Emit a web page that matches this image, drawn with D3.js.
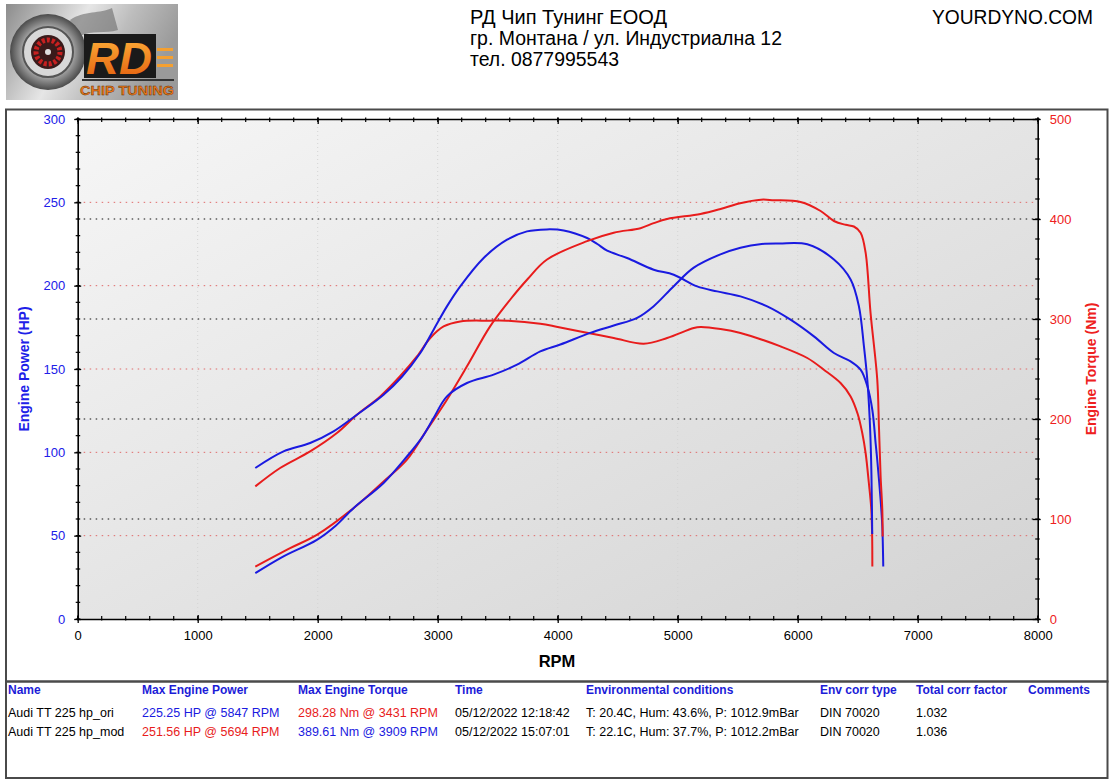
<!DOCTYPE html>
<html>
<head>
<meta charset="utf-8">
<script src="https://cdn.jsdelivr.net/npm/d3@7"></script>
<style>
  html, body { margin: 0; padding: 0; background: #fff; }
  svg { display: block; }
  text { font-family: "Liberation Sans", Arial, sans-serif; }
</style>
</head>
<body>
<svg id="chart" width="1112" height="784"></svg>
<script>
// ---------------- DATA ----------------
const rpmTicks = [0, 1000, 2000, 3000, 4000, 5000, 6000, 7000, 8000];
const powerTicks = [0, 50, 100, 150, 200, 250, 300];
const torqueTicks = [0, 100, 200, 300, 400, 500];

// Audi TT 225 hp_ori : power (blue)
const oriPowerRpm = [1480,1700,1993,2150,2298,2549,2744,2870,2966,3077,3244,3466,3661,3855,4022,4272,4467,4662,4800,4967,5134,5356,5523,5700,5847,6080,6302,6441,6510,6552,6580,6600,6612,6618,6621];
const oriPowerHp  = [27.5,37,47.5,56,66.5,81.6,97.5,109,120.6,133.6,141.6,146.6,152.6,160.6,164.7,171.7,176.1,180.7,187.7,199.7,210.8,218.8,222.8,225,225.3,224.8,215.7,203.7,187.7,163.6,143.6,120,95,70,51];
// Audi TT 225 hp_ori : torque (red)
const oriTorqueRpm = [1480,1687,1937,2160,2327,2521,2688,2827,2938,3049,3188,3431,3578,3855,4000,4189,4467,4717,4912,5134,5190,5357,5523,5857,6080,6218,6357,6441,6500,6538,6566,6593,6612,6620,6622];
const oriTorqueNm  = [132.6,151,167.6,186,204.3,222.6,243,262.6,281,292.6,297.6,298.3,298.3,295.3,292,287.6,281,275.3,281,291,292,290,286,272.6,261,249.3,236,222.6,205,186,166,136,112,86,52.6];
// Audi TT 225 hp_mod : power (red)
const modPowerRpm = [1480,1770,1993,2298,2549,2744,2911,3077,3244,3438,3605,3750,3911,4245,4467,4690,4800,4912,5190,5357,5520,5694,5801,6024,6191,6302,6400,6468,6524,6566,6607,6663,6677,6691,6705,6708];
const modPowerHp  = [31.4,42.5,50.5,66.5,82.5,95.6,113.6,131.6,151.6,175.7,191.7,204,215.7,226.7,231.8,234.5,237.5,240,243,246,249.5,251.6,251.3,250.2,244.8,238.8,236.5,235.5,231.8,219.8,183.7,143.6,115.6,85.5,65.5,49.5];
// Audi TT 225 hp_mod : torque (blue)
const modTorqueRpm = [1480,1715,1937,2132,2327,2549,2700,2855,2966,3077,3188,3383,3578,3744,3909,4050,4245,4330,4412,4578,4800,4967,5162,5329,5523,5746,5940,6135,6302,6441,6524,6580,6622,6650,6663,6691,6705,6713];
const modTorqueNm  = [151,167.6,176,187.6,204.3,224.3,242,266,289.3,312.6,332.6,361,379.3,387.6,389.6,388.6,381,375,368.3,361,349.3,344.3,332.6,327.6,322.6,312.6,299.3,282.6,266,257.6,249.3,233,209,175,159,119,92.6,52.6];

const headerLines = ["РД Чип Тунинг ЕООД", "гр. Монтана / ул. Индустриална 12", "тел. 0877995543"];
const siteName = "YOURDYNO.COM";

const tableHeaders = ["Name", "Max Engine Power", "Max Engine Torque", "Time", "Environmental conditions", "Env corr type", "Total corr factor", "Comments"];
const runNames = ["Audi TT 225 hp_ori", "Audi TT 225 hp_mod"];
const runMaxPower = ["225.25 HP @ 5847 RPM", "251.56 HP @ 5694 RPM"];
const runMaxTorque = ["298.28 Nm @ 3431 RPM", "389.61 Nm @ 3909 RPM"];
const runTimes = ["05/12/2022 12:18:42", "05/12/2022 15:07:01"];
const runEnv = ["T: 20.4C, Hum: 43.6%, P: 1012.9mBar", "T: 22.1C, Hum: 37.7%, P: 1012.2mBar"];
const runCorrType = ["DIN 70020", "DIN 70020"];
const runCorrFactor = ["1.032", "1.036"];
const runComments = ["", ""];

// ---------------- STYLE ----------------
const BLUE = "#1a1ae0";
const RED = "#e81c1c";
const HEAD_BLUE = "#1c1cd8";

const svg = d3.select("#chart");
svg.append("rect").attr("width", 1112).attr("height", 784).attr("fill", "#fff");

const defs = svg.append("defs");
const bg = defs.append("linearGradient").attr("id", "plotbg")
  .attr("x1", "0").attr("y1", "0").attr("x2", "1").attr("y2", "1");
bg.append("stop").attr("offset", "0").attr("stop-color", "#f6f6f6");
bg.append("stop").attr("offset", "1").attr("stop-color", "#d3d3d3");

const logoBg = defs.append("linearGradient").attr("id", "logobg")
  .attr("x1", "0").attr("y1", "0").attr("x2", "1").attr("y2", "0.3");
logoBg.append("stop").attr("offset", "0").attr("stop-color", "#8c8c8c");
logoBg.append("stop").attr("offset", "0.45").attr("stop-color", "#e6e6e6");
logoBg.append("stop").attr("offset", "0.7").attr("stop-color", "#bdbdbd");
logoBg.append("stop").attr("offset", "1").attr("stop-color", "#9a9a9a");
const turbo = defs.append("radialGradient").attr("id", "turbo");
turbo.append("stop").attr("offset", "0").attr("stop-color", "#f0f0f0");
turbo.append("stop").attr("offset", "0.7").attr("stop-color", "#9a9a9a");
turbo.append("stop").attr("offset", "1").attr("stop-color", "#4a4a4a");
const orange = defs.append("linearGradient").attr("id", "orange")
  .attr("x1", "0").attr("y1", "0").attr("x2", "0").attr("y2", "1");
orange.append("stop").attr("offset", "0").attr("stop-color", "#ffb23a");
orange.append("stop").attr("offset", "1").attr("stop-color", "#e25b0c");

// ---------------- LOGO ----------------
const logo = svg.append("g");
logo.append("rect").attr("x", 6).attr("y", 4).attr("width", 172).attr("height", 96).attr("fill", "url(#logobg)");
logo.append("path").attr("d", "M70,20 C85,10 100,14 112,8 L118,30 C105,34 92,30 80,36 Z").attr("fill", "#6a6a6a").attr("opacity", 0.6);
logo.append("circle").attr("cx", 48).attr("cy", 52).attr("r", 38).attr("fill", "url(#turbo)");
logo.append("circle").attr("cx", 48).attr("cy", 52).attr("r", 25).attr("fill", "#d8d8d8").attr("stroke", "#555").attr("stroke-width", 2);
logo.append("circle").attr("cx", 48).attr("cy", 52).attr("r", 17).attr("fill", "#3a1a1a");
logo.append("circle").attr("cx", 48).attr("cy", 52).attr("r", 12).attr("fill", "none").attr("stroke", "#c82020").attr("stroke-width", 5).attr("stroke-dasharray", "3,2");
logo.append("circle").attr("cx", 48).attr("cy", 52).attr("r", 3).attr("fill", "#ddd");
logo.append("rect").attr("x", 84).attr("y", 34).attr("width", 72).attr("height", 44).attr("fill", "#1a1a1a");
logo.append("text").attr("x", 86).attr("y", 74).attr("font-size", 44).attr("font-weight", "bold")
  .attr("font-style", "italic").attr("fill", "url(#orange)").attr("textLength", 66)
  .attr("lengthAdjust", "spacingAndGlyphs").text("RD");
[48, 56, 64].forEach(yy => logo.append("rect").attr("x", 157).attr("y", yy).attr("width", 16).attr("height", 3).attr("fill", "#f5a030"));
logo.append("rect").attr("x", 82).attr("y", 79).attr("width", 92).attr("height", 2).attr("fill", "#333");
logo.append("text").attr("x", 80).attr("y", 95).attr("font-size", 13).attr("font-weight", "bold")
  .attr("fill", "#f07a18").attr("stroke", "#5a2a00").attr("stroke-width", 0.4)
  .attr("textLength", 94).attr("lengthAdjust", "spacingAndGlyphs").text("CHIP TUNING");

// ---------------- HEADER ----------------
const headerFont = '"Liberation Sans Narrow", "Arial Narrow", "DejaVu Sans Condensed", sans-serif';
const headerWidths = [197, 312, 149];
const headerBase = [24, 45, 66];
headerLines.forEach((t, i) => {
  svg.append("text").attr("x", 470).attr("y", headerBase[i]).attr("font-size", 19.5)
    .attr("font-family", headerFont).attr("fill", "#000")
    .attr("textLength", headerWidths[i]).attr("lengthAdjust", "spacingAndGlyphs").text(t);
});
svg.append("text").attr("x", 932).attr("y", 24).attr("font-size", 19.5)
  .attr("font-family", headerFont).attr("fill", "#000")
  .attr("textLength", 161).attr("lengthAdjust", "spacingAndGlyphs").text(siteName);

// ---------------- FRAMES ----------------
svg.append("rect").attr("x", 6).attr("y", 109.5).attr("width", 1101.5).attr("height", 572)
  .attr("fill", "none").attr("stroke", "#4a4a4a").attr("stroke-width", 2);
svg.append("rect").attr("x", 6).attr("y", 681.5).attr("width", 1101.5).attr("height", 96.5)
  .attr("fill", "none").attr("stroke", "#4a4a4a").attr("stroke-width", 2);

// ---------------- SCALES ----------------
const X0 = 77.7, X1 = 1037.7, Y0 = 619, Y1 = 119;
const x = d3.scaleLinear().domain([0, 8000]).range([X0, X1]);
const yP = d3.scaleLinear().domain([0, 300]).range([Y0, Y1]);
const yT = d3.scaleLinear().domain([0, 500]).range([Y0, Y1]);

// plot background
svg.append("rect").attr("x", X0).attr("y", Y1).attr("width", X1 - X0).attr("height", Y0 - Y1)
  .attr("fill", "url(#plotbg)");

// grid
const grid = svg.append("g");
grid.selectAll(".vg").data(rpmTicks.slice(1, -1)).join("line")
  .attr("x1", d => x(d)).attr("x2", d => x(d)).attr("y1", Y1).attr("y2", Y0)
  .attr("stroke", "#d4d4d4").attr("stroke-width", 1).attr("stroke-dasharray", "1,3");
grid.selectAll(".pg").data(powerTicks.slice(1, -1)).join("line")
  .attr("x1", X0).attr("x2", X1).attr("y1", d => yP(d)).attr("y2", d => yP(d))
  .attr("stroke", "#e06a6a").attr("stroke-width", 1).attr("stroke-dasharray", "1.5,4.5");
grid.selectAll(".tg").data(torqueTicks.slice(1, -1)).join("line")
  .attr("x1", X0).attr("x2", X1).attr("y1", d => yT(d)).attr("y2", d => yT(d))
  .attr("stroke", "#111").attr("stroke-width", 1).attr("stroke-dasharray", "1.5,4.5");

// ---------------- AXES ----------------
function styleAxis(g, color) {
  g.select(".domain").attr("stroke", "#000").attr("stroke-width", 1.6);
  g.selectAll(".tick line").attr("stroke", "#000").attr("stroke-width", 1.3);
  g.selectAll(".tick text").attr("fill", color).attr("font-size", 13)
    .attr("font-family", '"Liberation Sans", Arial, sans-serif');
}
const minorRpm = d3.range(0, 8001, 200);
const minorHp = d3.range(0, 301, 10);
const minorNm = d3.range(0, 501, 20);

// minor ticks
const minor = svg.append("g").attr("stroke", "#000").attr("stroke-width", 1.2);
minor.selectAll(".mb").data(minorRpm).join("line")
  .attr("x1", d => x(d)).attr("x2", d => x(d)).attr("y1", Y0 - 3).attr("y2", Y0 + 1.5);
minor.selectAll(".mt").data(minorRpm).join("line")
  .attr("x1", d => x(d)).attr("x2", d => x(d)).attr("y1", Y1 - 1.5).attr("y2", Y1 + 3);
minor.selectAll(".ml").data(minorHp).join("line")
  .attr("x1", X0 - 2).attr("x2", X0 + 2.5).attr("y1", d => yP(d)).attr("y2", d => yP(d));
minor.selectAll(".mr").data(minorNm).join("line")
  .attr("x1", X1 - 2.5).attr("x2", X1 + 2).attr("y1", d => yT(d)).attr("y2", d => yT(d));

const xAxis = svg.append("g").attr("transform", `translate(0,${Y0})`)
  .call(d3.axisBottom(x).tickValues(rpmTicks).tickFormat(d3.format("d")).tickSizeOuter(0).tickSizeInner(4).tickPadding(8));
styleAxis(xAxis, "#000");
xAxis.selectAll(".tick line").attr("y1", -4);
const xTop = svg.append("g").attr("transform", `translate(0,${Y1})`)
  .call(d3.axisTop(x).tickValues(rpmTicks).tickFormat("").tickSizeOuter(0).tickSizeInner(-5));
styleAxis(xTop, "#000");
xTop.selectAll(".tick line").attr("y1", -1.5);

const yLeft = svg.append("g").attr("transform", `translate(${X0},0)`)
  .call(d3.axisLeft(yP).tickValues(powerTicks).tickSizeOuter(0).tickSizeInner(3.5).tickPadding(9));
styleAxis(yLeft, "#2020e8");
yLeft.selectAll(".tick line").attr("x1", 3.5);
const yRight = svg.append("g").attr("transform", `translate(${X1},0)`)
  .call(d3.axisRight(yT).tickValues(torqueTicks).tickSizeOuter(0).tickSizeInner(3).tickPadding(9));
styleAxis(yRight, "#ee2020");
yRight.selectAll(".tick line").attr("x1", -5);

// axis titles
svg.append("text").attr("transform", `translate(29,${(Y0 + Y1) / 2}) rotate(-90)`)
  .attr("text-anchor", "middle").attr("font-size", 14).attr("font-weight", "bold")
  .attr("fill", "#2020e8").text("Engine Power (HP)");
svg.append("text").attr("transform", `translate(1096,${(Y0 + Y1) / 2}) rotate(-90)`)
  .attr("text-anchor", "middle").attr("font-size", 14).attr("font-weight", "bold")
  .attr("fill", "#ee2020").text("Engine Torque (Nm)");
svg.append("text").attr("x", 557).attr("y", 667).attr("text-anchor", "middle")
  .attr("font-size", 16.5).attr("font-weight", "bold").attr("fill", "#000").text("RPM");

// ---------------- CURVES ----------------
const clip = defs.append("clipPath").attr("id", "plotclip");
clip.append("rect").attr("x", X0).attr("y", Y1).attr("width", X1 - X0).attr("height", Y0 - Y1);
const curves = svg.append("g").attr("clip-path", "url(#plotclip)");

function drawCurve(rpms, vals, yScale, color) {
  const pts = rpms.map((r, i) => [r, vals[i]]);
  const line = d3.line().x(d => x(d[0])).y(d => yScale(d[1])).curve(d3.curveCatmullRom.alpha(0.5));
  curves.append("path").datum(pts).attr("d", line)
    .attr("fill", "none").attr("stroke", color).attr("stroke-width", 2)
    .attr("stroke-linejoin", "round").attr("stroke-linecap", "butt");
}
drawCurve(oriTorqueRpm, oriTorqueNm, yT, RED);
drawCurve(modTorqueRpm, modTorqueNm, yT, BLUE);
drawCurve(modPowerRpm, modPowerHp, yP, RED);
drawCurve(oriPowerRpm, oriPowerHp, yP, BLUE);

// ---------------- TABLE ----------------
const colX = [8, 142, 298, 455, 586, 820, 916, 1028];
const tbl = svg.append("g").attr("font-family", '"Liberation Sans", Arial, sans-serif');
tableHeaders.forEach((h, i) => {
  tbl.append("text").attr("x", colX[i]).attr("y", 694).attr("font-size", 12)
    .attr("font-weight", "bold").attr("fill", HEAD_BLUE).text(h);
});
const rowY = [717, 736];
const powerColors = [BLUE, RED];
const torqueColors = [RED, BLUE];
runNames.forEach((n, r) => {
  const cells = [
    [runNames[r], "#000"], [runMaxPower[r], powerColors[r]], [runMaxTorque[r], torqueColors[r]],
    [runTimes[r], "#000"], [runEnv[r], "#000"], [runCorrType[r], "#000"],
    [runCorrFactor[r], "#000"], [runComments[r], "#000"]
  ];
  cells.forEach((c, i) => {
    tbl.append("text").attr("x", colX[i]).attr("y", rowY[r]).attr("font-size", 12.5)
      .attr("fill", c[1]).text(c[0]);
  });
});
</script>
</body>
</html>
